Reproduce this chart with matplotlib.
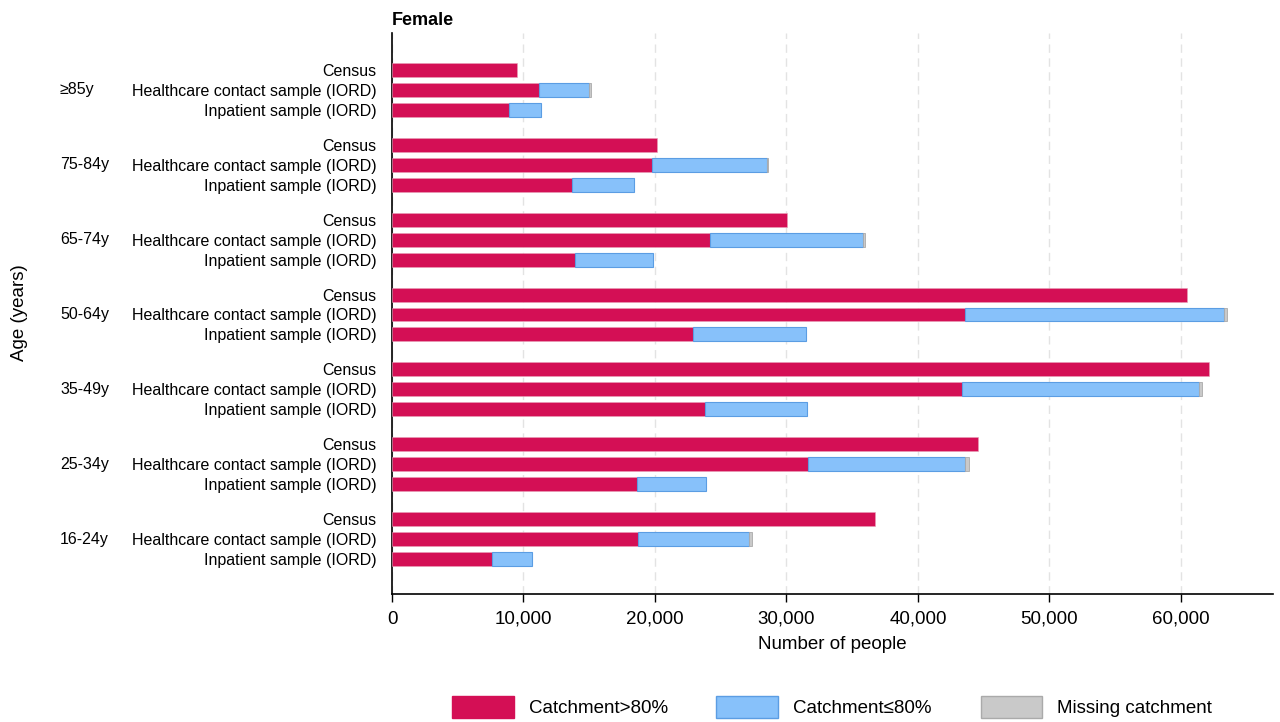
import numpy as np
import matplotlib.pyplot as plt
from matplotlib.patches import Patch

plt.rcParams['font.family'] = ['Liberation Sans', 'DejaVu Sans']

age_groups = ["≥85y", "75-84y", "65-74y", "50-64y", "35-49y", "25-34y", "16-24y"]
sources = ["Census", "Healthcare contact sample (IORD)", "Inpatient sample (IORD)"]

# per age group: [census, healthcare contact, inpatient]
over80 = [[9500, 11200, 8900],
          [20150, 19800, 13700],
          [30050, 24200, 13900],
          [60450, 43550, 22900],
          [62150, 43350, 23800],
          [44550, 31650, 18600],
          [36700, 18700, 7600]]
upto80 = [[0, 3800, 2430],
          [0, 8700, 4700],
          [0, 11600, 5950],
          [0, 19700, 8600],
          [0, 18000, 7750],
          [0, 11900, 5300],
          [0, 8450, 3050]]
missing = [[0, 120, 0],
           [0, 120, 0],
           [0, 150, 0],
           [0, 230, 0],
           [0, 250, 0],
           [0, 350, 0],
           [0, 230, 0]]

red = "#D40F55"
blue = "#87C1FA"
blue_edge = "#5B9DE3"
grey = "#C9C9C9"

fig = plt.figure(figsize=(12.8, 7.22), dpi=100)
ax = fig.add_axes([392 / 1280, 1 - 594 / 722, (1273 - 392) / 1280, (594 - 33) / 722])

ypos, ylabels = [], []
gap = 3.75
for g, age in enumerate(age_groups):
    for i, src in enumerate(sources):
        y = g * gap + i
        a, b, c = over80[g][i], upto80[g][i], missing[g][i]
        ax.barh(y, a, height=0.7, color=red, edgecolor="#E8A0B8", linewidth=0.4, zorder=3)
        if b:
            ax.barh(y, b, left=a, height=0.7, color=blue, edgecolor=blue_edge, linewidth=0.8, zorder=3)
        if c:
            ax.barh(y, c, left=a + b, height=0.7, color=grey, edgecolor="#AAAAAA", linewidth=0.6, zorder=3)
        ypos.append(y)
        ylabels.append(src)
    ax.text(-(392 - 60) / 881, g * gap + 1, age, transform=ax.get_yaxis_transform(),
            ha="left", va="center", fontsize=11.5)

ax.set_yticks(ypos)
ax.set_yticklabels(ylabels, fontsize=11.5)
ax.tick_params(axis="y", length=0, pad=11)
ax.set_ylim(6 * gap + 2 + 1.75, -1.85)
ax.set_xlim(0, 67000)
ax.set_xticks(np.arange(0, 60001, 10000))
ax.set_xticklabels([f"{v:,}" for v in range(0, 60001, 10000)], fontsize=13.5)
ax.tick_params(axis="x", length=6, width=1, pad=6)
ax.xaxis.grid(True, linestyle=(0, (6, 4)), color="#E3E3E3", linewidth=1, zorder=0)
ax.set_axisbelow(True)
for s in ["top", "right"]:
    ax.spines[s].set_visible(False)
ax.spines["left"].set_linewidth(1.2)
ax.spines["bottom"].set_linewidth(1.2)

ax.set_xlabel("Number of people", fontsize=13.5, labelpad=6)
fig.text(20 / 1280, 1 - 313 / 722, "Age (years)", rotation=90, ha="center", va="center", fontsize=13.5)
ax.set_title("Female", loc="left", fontsize=13, fontweight="bold", pad=6)

handles = [Patch(facecolor=red, edgecolor=red),
           Patch(facecolor=blue, edgecolor=blue_edge),
           Patch(facecolor=grey, edgecolor="#AAAAAA")]
fig.legend(handles, ["Catchment>80%", "Catchment≤80%", "Missing catchment"],
           loc="center", bbox_to_anchor=(832 / 1280, 1 - 707 / 722), ncol=3,
           frameon=False, fontsize=13.5, handlelength=3.3, handleheight=1.5,
           columnspacing=2.6, handletextpad=0.8)

fig.savefig("out.png", dpi=100)
